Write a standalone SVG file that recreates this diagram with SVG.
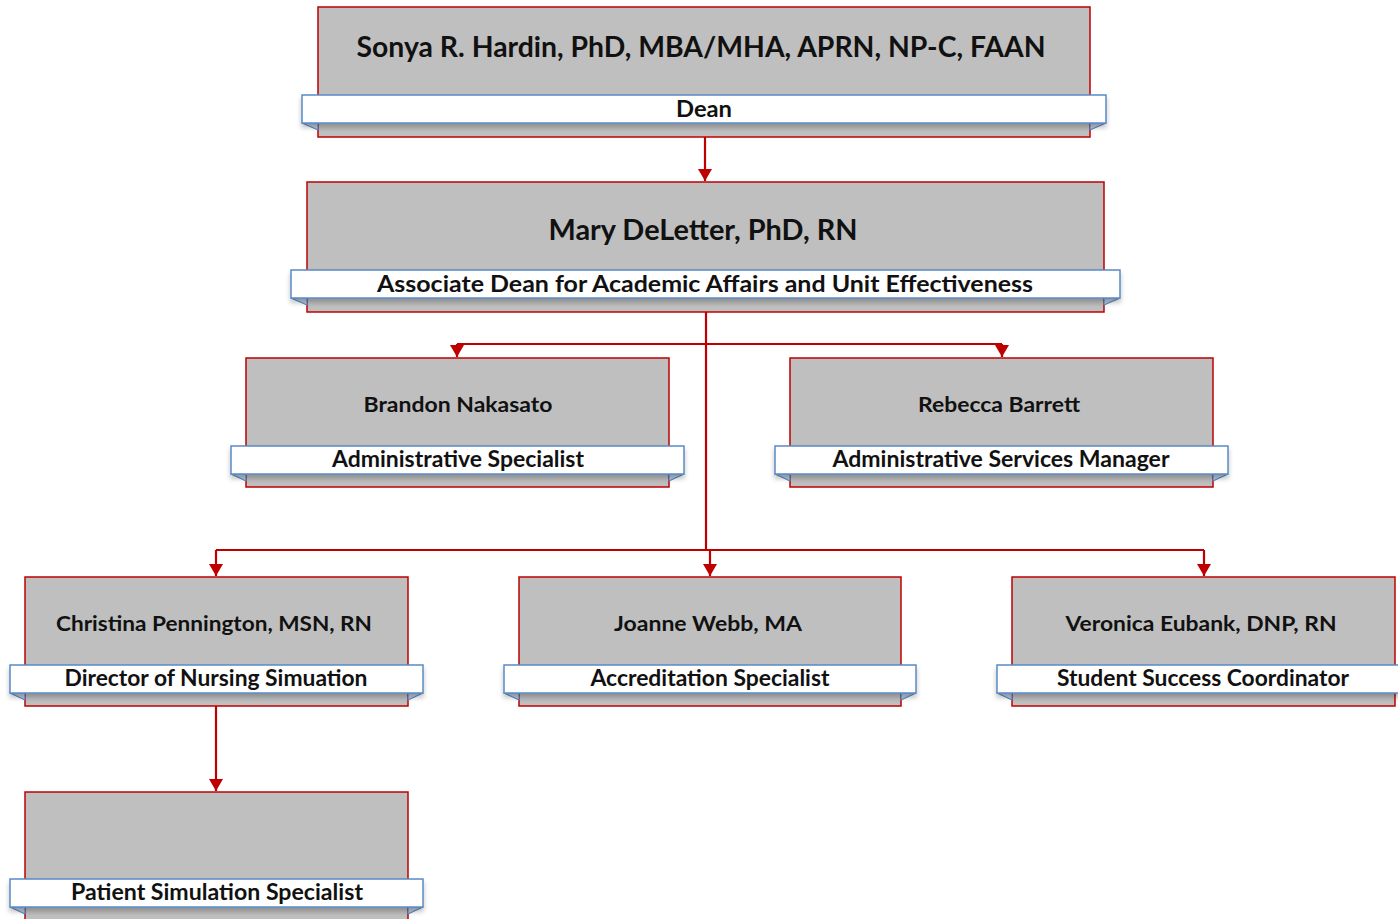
<svg xmlns="http://www.w3.org/2000/svg" width="1398" height="919" viewBox="0 0 1398 919">
  <style>
    .box { fill: #bfbfbf; stroke: #c00000; stroke-width: 1.5; }
    .band { fill: #ffffff; stroke: #5a8ac6; stroke-width: 1.5; }
    .fold { fill: #bcc9dc; stroke: #5a8ac6; stroke-width: 1.2; stroke-linejoin: round; }
    .name { font-family: Lato, "Liberation Sans", sans-serif; font-weight: bold; fill: #111111; text-anchor: middle; }
    .big { font-size: 28px; }
    .mid { font-size: 21.5px; }
    .ttl { font-family: Lato, "Liberation Sans", sans-serif; font-weight: bold; fill: #111111; text-anchor: middle; font-size: 22.5px; }
    .wire { fill: none; stroke: #c00000; stroke-width: 2.2; }
  </style>
  <defs>
    <marker id="arrow" viewBox="0 0 12 14" refX="12" refY="7" markerWidth="12" markerHeight="14" markerUnits="userSpaceOnUse" orient="auto">
      <path d="M0,0 L12,7 L0,14 Z" fill="#c00000"/>
    </marker>
    <filter id="shadow" x="-5%" y="-50%" width="110%" height="220%">
      <feGaussianBlur in="SourceAlpha" stdDeviation="2.5"/>
      <feOffset dx="0" dy="4" result="b"/>
      <feComponentTransfer><feFuncA type="linear" slope="0.25"/></feComponentTransfer>
      <feMerge><feMergeNode/><feMergeNode in="SourceGraphic"/></feMerge>
    </filter>
  </defs>

  <rect width="1398" height="919" fill="#ffffff"/>

  <!-- reporting lines -->
  <g id="connectors">
    <path class="wire" d="M705,137 V181" marker-end="url(#arrow)"/>
    <path class="wire" d="M706,312 V550"/>
    <path class="wire" d="M457,344 H1002"/>
    <path class="wire" d="M457,344 V357" marker-end="url(#arrow)"/>
    <path class="wire" d="M1002,344 V357" marker-end="url(#arrow)"/>
    <path class="wire" d="M216,550 H1204"/>
    <path class="wire" d="M216,550 V576" marker-end="url(#arrow)"/>
    <path class="wire" d="M710,550 V576" marker-end="url(#arrow)"/>
    <path class="wire" d="M1204,550 V576" marker-end="url(#arrow)"/>
    <path class="wire" d="M216,706 V791" marker-end="url(#arrow)"/>
  </g>

  <g id="dean">
    <rect class="box" x="318" y="7" width="772" height="130"/>
    <path class="fold" d="M302,123 L318,130 L318,123 Z"/>
    <path class="fold" d="M1106,123 L1090,130 L1090,123 Z"/>
    <rect class="band" x="302" y="95" width="804" height="28" filter="url(#shadow)"/>
    <text class="name big" x="701" y="57" textLength="689" lengthAdjust="spacingAndGlyphs">Sonya R. Hardin, PhD, MBA/MHA, APRN, NP-C, FAAN</text>
    <text class="ttl" x="704" y="117" textLength="56" lengthAdjust="spacingAndGlyphs">Dean</text>
  </g>

  <g id="associate-dean">
    <rect class="box" x="307" y="182" width="797" height="130"/>
    <path class="fold" d="M291,298 L307,305 L307,298 Z"/>
    <path class="fold" d="M1120,298 L1104,305 L1104,298 Z"/>
    <rect class="band" x="291" y="270" width="829" height="28" filter="url(#shadow)"/>
    <text class="name big" x="703" y="240" textLength="309" lengthAdjust="spacingAndGlyphs">Mary DeLetter, PhD, RN</text>
    <text class="ttl" x="705" y="292" textLength="656" lengthAdjust="spacingAndGlyphs">Associate Dean for Academic Affairs and Unit Effectiveness</text>
  </g>

  <g id="admin-specialist">
    <rect class="box" x="246" y="358" width="423" height="129"/>
    <path class="fold" d="M231,474 L246,481 L246,474 Z"/>
    <path class="fold" d="M684,474 L669,481 L669,474 Z"/>
    <rect class="band" x="231" y="446" width="453" height="28" filter="url(#shadow)"/>
    <text class="name mid" x="458" y="412" textLength="189" lengthAdjust="spacingAndGlyphs">Brandon Nakasato</text>
    <text class="ttl" x="458" y="467" textLength="252" lengthAdjust="spacingAndGlyphs">Administrative Specialist</text>
  </g>

  <g id="admin-services-manager">
    <rect class="box" x="790" y="358" width="423" height="129"/>
    <path class="fold" d="M775,474 L790,481 L790,474 Z"/>
    <path class="fold" d="M1228,474 L1213,481 L1213,474 Z"/>
    <rect class="band" x="775" y="446" width="453" height="28" filter="url(#shadow)"/>
    <text class="name mid" x="999" y="412" textLength="162" lengthAdjust="spacingAndGlyphs">Rebecca Barrett</text>
    <text class="ttl" x="1001" y="467" textLength="337" lengthAdjust="spacingAndGlyphs">Administrative Services Manager</text>
  </g>

  <g id="simulation-director">
    <rect class="box" x="25" y="577" width="383" height="129"/>
    <path class="fold" d="M10,693 L25,700 L25,693 Z"/>
    <path class="fold" d="M423,693 L408,700 L408,693 Z"/>
    <rect class="band" x="10" y="665" width="413" height="28" filter="url(#shadow)"/>
    <text class="name mid" x="214" y="631" textLength="316" lengthAdjust="spacingAndGlyphs">Christina Pennington, MSN, RN</text>
    <text class="ttl" x="216" y="686" textLength="303" lengthAdjust="spacingAndGlyphs">Director of Nursing Simuation</text>
  </g>

  <g id="accreditation-specialist">
    <rect class="box" x="519" y="577" width="382" height="129"/>
    <path class="fold" d="M504,693 L519,700 L519,693 Z"/>
    <path class="fold" d="M916,693 L901,700 L901,693 Z"/>
    <rect class="band" x="504" y="665" width="412" height="28" filter="url(#shadow)"/>
    <text class="name mid" x="708" y="631" textLength="188" lengthAdjust="spacingAndGlyphs">Joanne Webb, MA</text>
    <text class="ttl" x="710" y="686" textLength="239" lengthAdjust="spacingAndGlyphs">Accreditation Specialist</text>
  </g>

  <g id="student-success">
    <rect class="box" x="1012" y="577" width="383" height="129"/>
    <path class="fold" d="M997,693 L1012,700 L1012,693 Z"/>
    <rect class="band" x="997" y="665" width="413" height="28" filter="url(#shadow)"/>
    <text class="name mid" x="1201" y="631" textLength="271" lengthAdjust="spacingAndGlyphs">Veronica Eubank, DNP, RN</text>
    <text class="ttl" x="1203" y="686" textLength="292" lengthAdjust="spacingAndGlyphs">Student Success Coordinator</text>
  </g>

  <g id="patient-simulation">
    <rect class="box" x="25" y="792" width="383" height="140"/>
    <path class="fold" d="M10,907 L25,914 L25,907 Z"/>
    <path class="fold" d="M423,907 L408,914 L408,907 Z"/>
    <rect class="band" x="10" y="879" width="413" height="28" filter="url(#shadow)"/>
    <text class="ttl" x="217" y="900" textLength="292" lengthAdjust="spacingAndGlyphs">Patient Simulation Specialist</text>
  </g>
</svg>
